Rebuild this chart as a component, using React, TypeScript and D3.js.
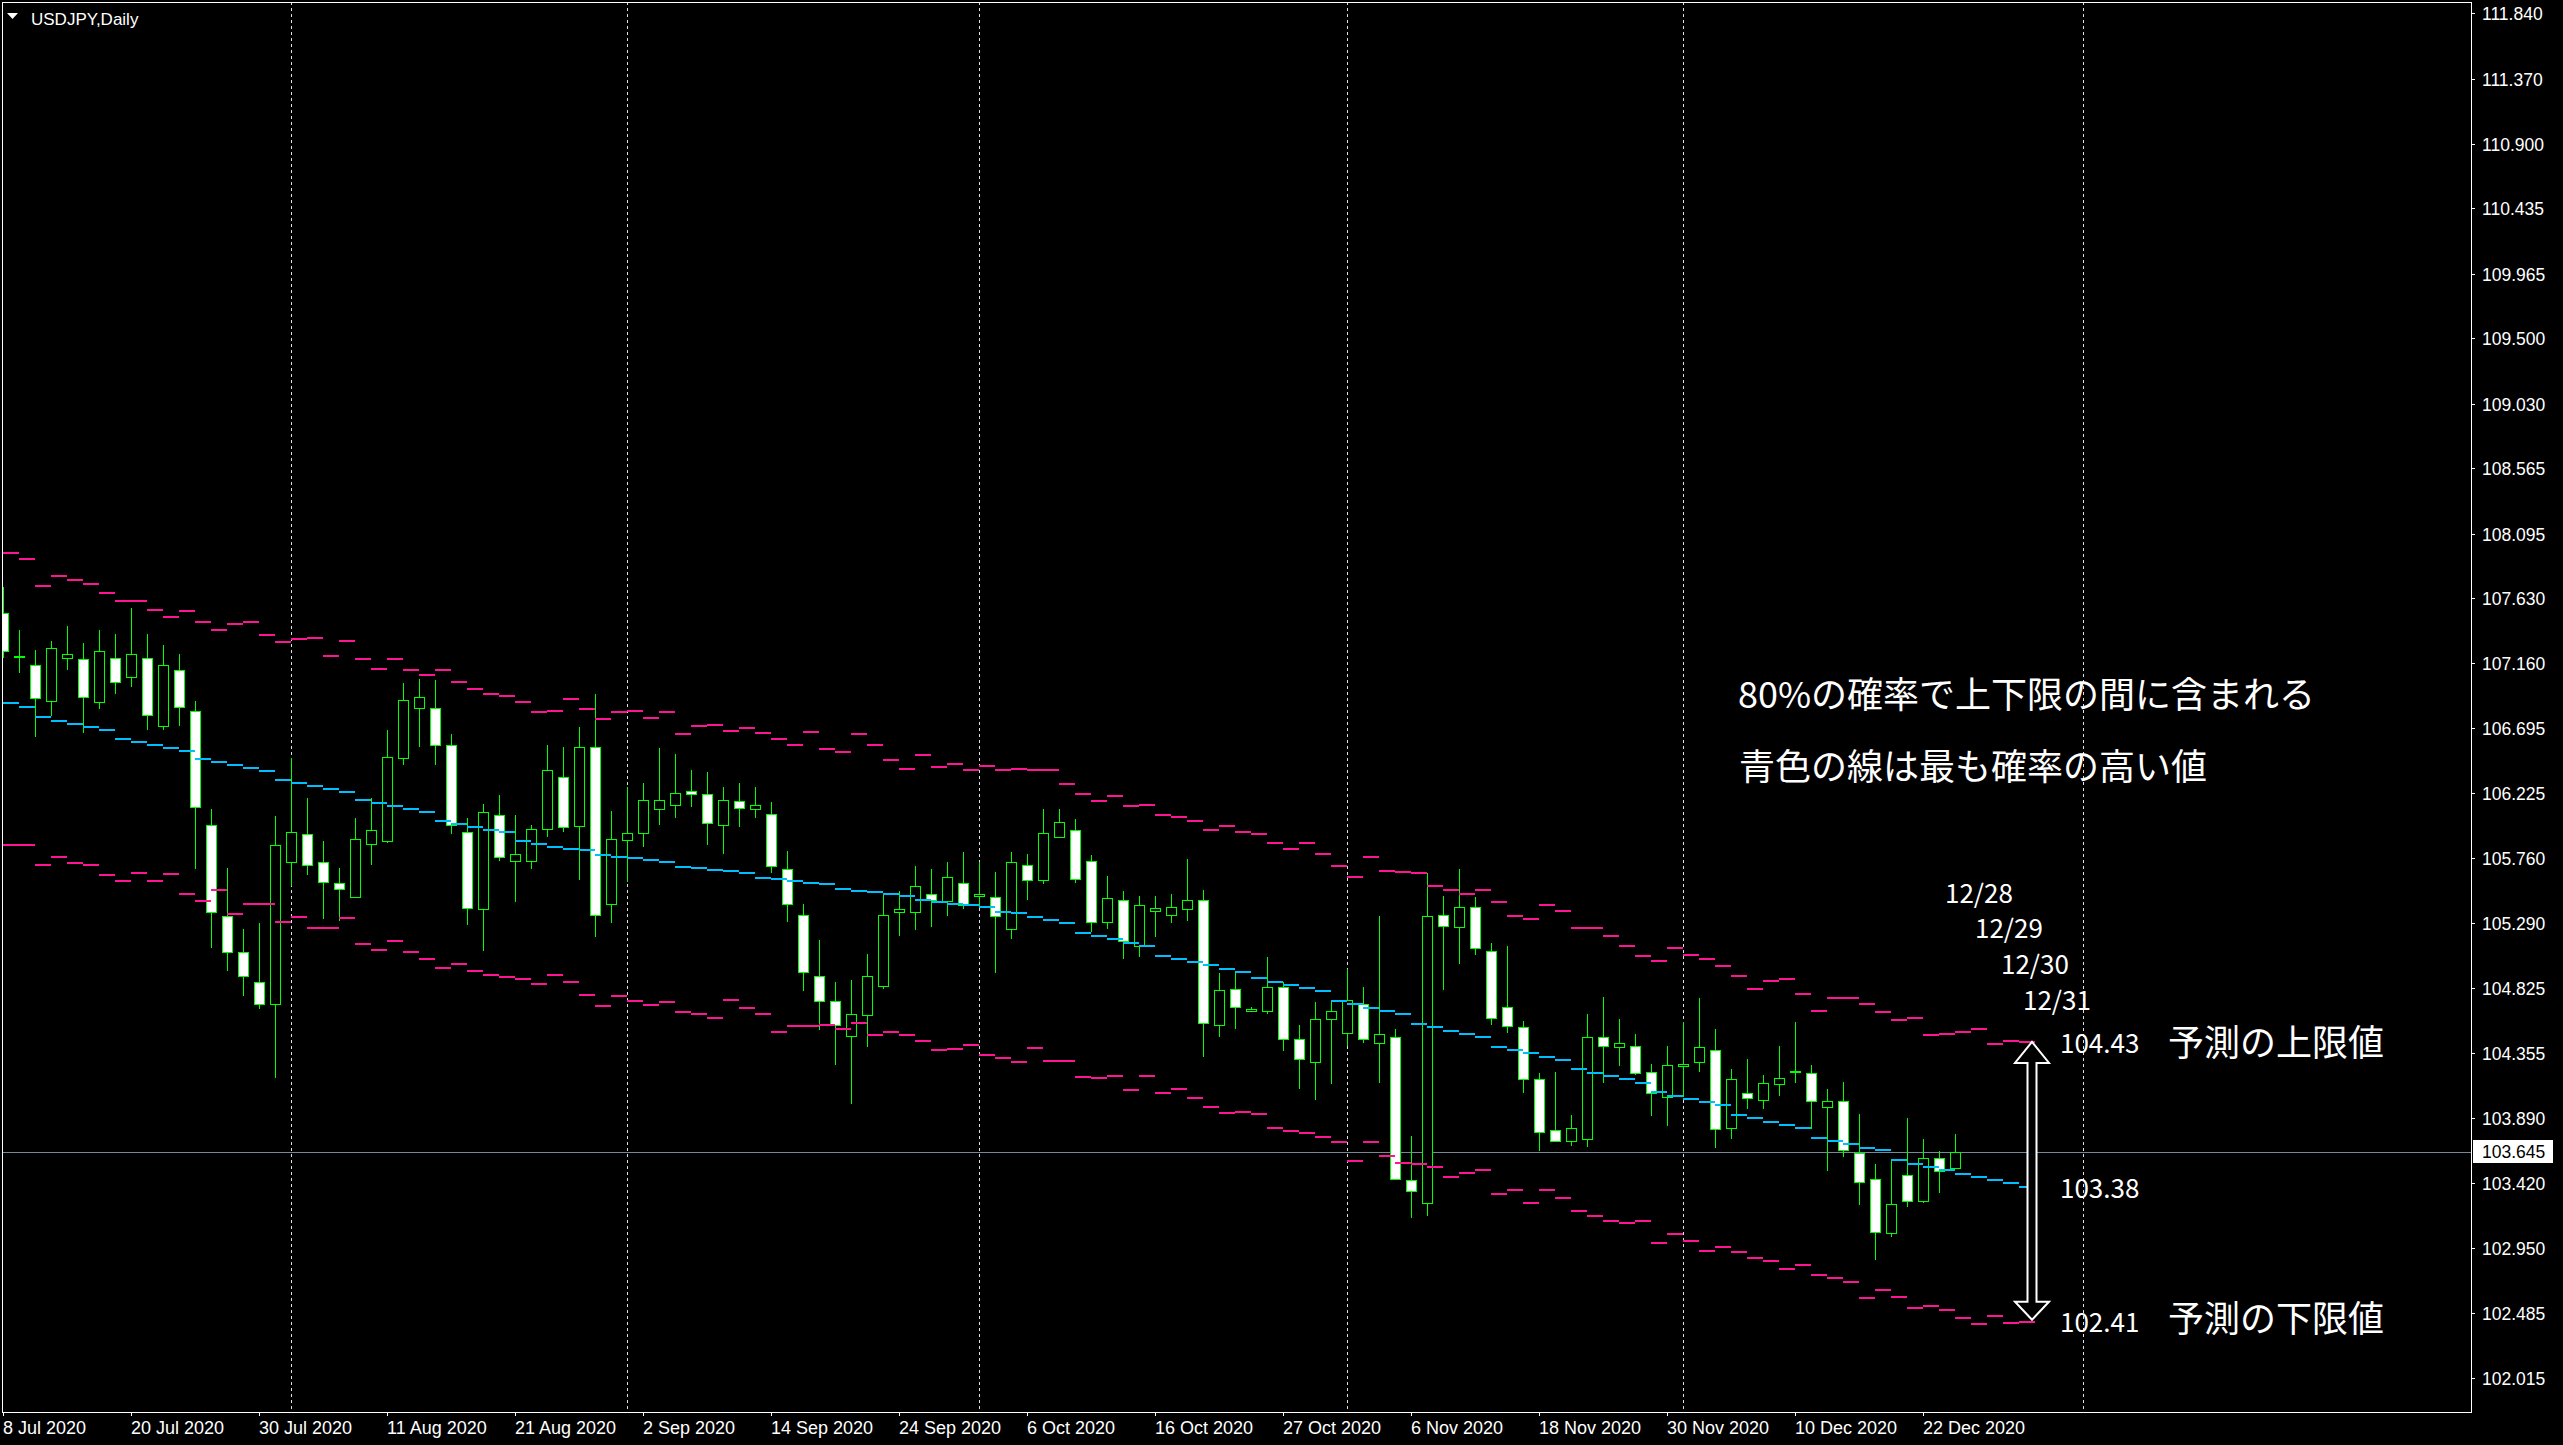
import React from 'react';
import * as d3 from 'd3';

// USDJPY daily candles, 8 Jul 2020 .. 24 Dec 2020 (bar index 0..122)
const opens = [
  107.52, 107.2, 107.15, 106.89, 107.2, 107.19, 106.88, 107.2, 107.06, 107.2,
  106.71, 107.11, 106.82, 106.0, 105.34, 105.08, 104.87, 104.71, 105.73, 105.93,
  105.73, 105.58, 105.48, 105.86, 105.88, 106.48, 106.84, 106.84, 106.57, 105.95,
  105.39, 106.07, 105.74, 105.74, 105.97, 106.34, 105.99, 106.56, 105.43, 105.89,
  105.94, 106.11, 106.14, 106.24, 106.22, 106.0, 106.17, 106.11, 106.08, 105.68,
  105.35, 104.91, 104.73, 104.48, 104.63, 104.84, 105.37, 105.37, 105.5, 105.45,
  105.58, 105.49, 105.48, 105.25, 105.71, 105.6, 105.91, 105.96, 105.74, 105.3,
  105.46, 105.13, 105.38, 105.35, 105.39, 105.46, 104.56, 104.82, 104.66, 104.66,
  104.83, 104.46, 104.29, 104.6, 104.5, 104.71, 104.43, 104.47, 103.44, 103.28,
  105.35, 105.26, 105.41, 105.09, 104.69, 104.54, 104.17, 103.8, 103.72, 103.74,
  104.47, 104.4, 104.41, 104.22, 104.04, 104.26, 104.29, 104.38, 103.82, 104.07,
  104.02, 104.13, 104.21, 104.21, 103.97, 104.01, 103.64, 103.45, 103.06, 103.48,
  103.29, 103.6, 103.53,
];
const highs = [
  107.71, 107.4, 107.26, 107.32, 107.43, 107.31, 107.4, 107.37, 107.56, 107.37,
  107.29, 107.23, 106.89, 106.11, 105.69, 105.25, 105.29, 106.06, 106.48, 106.19,
  105.88, 105.69, 106.05, 106.19, 106.68, 107.02, 107.05, 107.04, 106.65, 106.05,
  106.15, 106.21, 106.07, 106.0, 106.57, 106.56, 106.7, 106.94, 106.1, 106.27,
  106.3, 106.55, 106.51, 106.39, 106.38, 106.27, 106.3, 106.27, 106.16, 105.81,
  105.43, 105.17, 104.87, 104.88, 105.07, 105.51, 105.52, 105.7, 105.68, 105.73,
  105.8, 105.73, 105.66, 105.8, 105.79, 106.11, 106.11, 106.04, 105.78, 105.63,
  105.52, 105.49, 105.49, 105.5, 105.75, 105.53, 104.93, 104.94, 104.69, 105.05,
  104.87, 104.56, 104.72, 104.74, 104.96, 104.83, 105.34, 104.53, 103.76, 105.65,
  105.49, 105.68, 105.48, 105.15, 105.13, 104.59, 104.21, 104.22, 103.91, 104.64,
  104.76, 104.6, 104.49, 104.28, 104.41, 104.58, 104.75, 104.53, 104.24, 104.31,
  104.2, 104.41, 104.58, 104.27, 104.1, 104.15, 103.92, 103.56, 103.59, 103.89,
  103.74, 103.65, 103.77,
];
const lows = [
  107.2, 107.09, 106.63, 106.78, 107.11, 106.66, 106.83, 106.94, 106.99, 106.68,
  106.68, 106.71, 105.68, 105.11, 104.95, 104.77, 104.67, 104.18, 105.56, 105.64,
  105.32, 105.31, 105.47, 105.71, 105.87, 106.43, 106.56, 106.43, 105.93, 105.28,
  105.09, 105.74, 105.44, 105.68, 105.91, 105.95, 105.6, 105.19, 105.29, 105.59,
  105.84, 106.0, 106.05, 106.13, 105.85, 105.79, 105.98, 106.05, 105.65, 105.3,
  104.8, 104.52, 104.27, 103.99, 104.4, 104.82, 105.2, 105.24, 105.26, 105.34,
  105.39, 105.4, 104.93, 105.18, 105.46, 105.57, 105.91, 105.58, 105.23, 105.25,
  105.03, 105.05, 105.19, 105.29, 105.31, 104.33, 104.47, 104.53, 104.65, 104.64,
  104.37, 104.1, 104.02, 104.13, 104.41, 104.43, 104.14, 103.44, 103.17, 103.18,
  104.81, 105.0, 105.06, 104.56, 104.5, 104.07, 103.65, 103.72, 103.69, 103.68,
  104.14, 104.26, 104.2, 103.9, 103.83, 104.04, 104.22, 103.67, 103.74, 103.95,
  103.95, 104.05, 104.14, 103.81, 103.51, 103.61, 103.26, 102.87, 103.03, 103.25,
  103.28, 103.35, 103.53,
];
const closes = [
  107.25, 107.21, 106.91, 107.27, 107.23, 106.92, 107.25, 107.03, 107.23, 106.79,
  107.15, 106.85, 106.13, 105.37, 105.08, 104.91, 104.71, 105.85, 105.95, 105.71,
  105.59, 105.54, 105.9, 105.96, 106.49, 106.9, 106.92, 106.57, 106.0, 105.4,
  106.09, 105.77, 105.79, 105.97, 106.39, 105.98, 106.56, 105.35, 105.9, 105.94,
  106.18, 106.18, 106.23, 106.22, 106.01, 106.18, 106.12, 106.14, 105.7, 105.43,
  104.94, 104.73, 104.56, 104.64, 104.91, 105.35, 105.39, 105.56, 105.46, 105.62,
  105.42, 105.5, 105.34, 105.73, 105.6, 105.94, 106.02, 105.61, 105.3, 105.47,
  105.16, 105.42, 105.4, 105.41, 105.46, 104.57, 104.81, 104.69, 104.67, 104.83,
  104.46, 104.31, 104.6, 104.66, 104.74, 104.46, 104.49, 103.45, 103.36, 105.34,
  105.27, 105.41, 105.11, 104.61, 104.55, 104.17, 103.79, 103.72, 103.82, 104.47,
  104.41, 104.43, 104.21, 104.07, 104.27, 104.28, 104.4, 103.81, 104.17, 104.03,
  104.14, 104.18, 104.22, 104.01, 104.01, 103.66, 103.43, 103.07, 103.27, 103.29,
  103.6, 103.51, 103.645,
];

// forecast indicator, one value per bar (index 0..126, last four = 12/28..12/31)
const centerLine = [
  106.878, 106.849, 106.777, 106.749, 106.727, 106.705, 106.684, 106.619, 106.597, 106.576,
  106.554, 106.533, 106.475, 106.454, 106.432, 106.41, 106.389, 106.324, 106.302, 106.281,
  106.259, 106.238, 106.18, 106.159, 106.137, 106.115, 106.094, 106.029, 106.006, 105.982,
  105.961, 105.945, 105.884, 105.86, 105.839, 105.825, 105.817, 105.78, 105.764, 105.757,
  105.748, 105.729, 105.695, 105.689, 105.674, 105.666, 105.652, 105.618, 105.61, 105.594,
  105.58, 105.572, 105.538, 105.524, 105.516, 105.5, 105.487, 105.458, 105.444, 105.429,
  105.423, 105.408, 105.372, 105.364, 105.337, 105.313, 105.292, 105.222, 105.201, 105.177,
  105.15, 105.129, 105.054, 105.033, 105.011, 104.99, 104.961, 104.94, 104.896, 104.87,
  104.846, 104.824, 104.805, 104.733, 104.706, 104.68, 104.661, 104.637, 104.565, 104.546,
  104.517, 104.493, 104.474, 104.402, 104.378, 104.358, 104.33, 104.306, 104.241, 104.215,
  104.193, 104.169, 104.143, 104.075, 104.049, 104.025, 104.003, 103.984, 103.912, 103.888,
  103.862, 103.84, 103.816, 103.747, 103.725, 103.701, 103.675, 103.656, 103.589, 103.56,
  103.538, 103.517, 103.488, 103.466, 103.445, 103.423, 103.394,
];
const upperBand = [
  107.958, 107.915, 107.72, 107.792, 107.763, 107.735, 107.67, 107.612, 107.612, 107.548,
  107.497, 107.54, 107.461, 107.404, 107.447, 107.461, 107.368, 107.317, 107.339, 107.346,
  107.216, 107.324, 107.195, 107.123, 107.195, 107.116, 107.08, 107.116, 107.029, 106.978,
  106.941, 106.928, 106.885, 106.808, 106.819, 106.906, 106.835, 106.763, 106.811, 106.819,
  106.768, 106.808, 106.654, 106.712, 106.72, 106.675, 106.696, 106.662, 106.616, 106.576,
  106.67, 106.547, 106.526, 106.654, 106.576, 106.467, 106.403, 106.504, 106.417, 106.438,
  106.39, 106.419, 106.396, 106.398, 106.393, 106.393, 106.292, 106.22, 106.17, 106.206,
  106.134, 106.143, 106.069, 106.055, 106.026, 105.961, 105.99, 105.95, 105.932, 105.87,
  105.824, 105.87, 105.788, 105.702, 105.623, 105.767, 105.668, 105.659, 105.652, 105.558,
  105.529, 105.5, 105.529, 105.443, 105.345, 105.321, 105.421, 105.378, 105.256, 105.256,
  105.198, 105.126, 105.054, 105.018, 105.112, 105.061, 105.033, 104.982, 104.91, 104.817,
  104.877, 104.889, 104.781, 104.661, 104.752, 104.752, 104.709, 104.651, 104.594, 104.608,
  104.486, 104.493, 104.505, 104.529, 104.421, 104.443, 104.436,
];
const lowerBand = [
  105.857, 105.857, 105.711, 105.764, 105.724, 105.711, 105.639, 105.596, 105.652, 105.591,
  105.647, 105.503, 105.452, 105.532, 105.359, 105.426, 105.431, 105.301, 105.338, 105.258,
  105.258, 105.33, 105.144, 105.101, 105.165, 105.085, 105.034, 104.97, 104.997, 104.949,
  104.917, 104.904, 104.89, 104.856, 104.92, 104.864, 104.776, 104.696, 104.768, 104.733,
  104.704, 104.725, 104.651, 104.64, 104.608, 104.739, 104.68, 104.638, 104.51, 104.552,
  104.552, 104.56, 104.526, 104.574, 104.486, 104.507, 104.488, 104.443, 104.379, 104.387,
  104.414, 104.344, 104.322, 104.294, 104.394, 104.299, 104.299, 104.186, 104.179, 104.193,
  104.092, 104.193, 104.071, 104.099, 104.035, 103.97, 103.927, 103.93, 103.919, 103.819,
  103.797, 103.783, 103.754, 103.718, 103.581, 103.718, 103.617, 103.567, 103.56, 103.538,
  103.466, 103.495, 103.516, 103.344, 103.372, 103.279, 103.372, 103.315, 103.221, 103.185,
  103.149, 103.13, 103.149, 102.991, 103.053, 103.005, 102.933, 102.962, 102.926, 102.883,
  102.86, 102.8, 102.83, 102.76, 102.74, 102.71, 102.595, 102.653, 102.602, 102.523,
  102.538, 102.509, 102.451, 102.408, 102.465, 102.415, 102.422,
];

const priceTicks = [
  '111.840', '111.370', '110.900', '110.435', '109.965', '109.500', '109.030', '108.565',
  '108.095', '107.630', '107.160', '106.695', '106.225', '105.760', '105.290', '104.825',
  '104.355', '103.890', '103.420', '102.950', '102.485', '102.015',
];
const dateLabels = [
  '8 Jul 2020', '20 Jul 2020', '30 Jul 2020', '11 Aug 2020', '21 Aug 2020', '2 Sep 2020',
  '14 Sep 2020', '24 Sep 2020', '6 Oct 2020', '16 Oct 2020', '27 Oct 2020', '6 Nov 2020',
  '18 Nov 2020', '30 Nov 2020', '10 Dec 2020', '22 Dec 2020',
];
const dateLabelIndex = [0, 8, 16, 24, 32, 40, 48, 56, 64, 72, 80, 88, 96, 104, 112, 120];
const monthStartIndex = [18, 39, 61, 84, 105, 130];
const forecastDates = ['12/28', '12/29', '12/30', '12/31'];
const bidPrice = 103.645;
const upperText = '104.43';
const centerText = '103.38';
const lowerText = '102.41';

const W = 2563;
const H = 1445;
const FRAME = { left: 2, top: 2, right: 2471, bottom: 1412 };
const AXIS_FONT = "'Liberation Sans', Arial, sans-serif";
const JP_FONT = "'Noto Sans CJK JP', 'Noto Sans', sans-serif";
const PINK = '#ff1493';
const BLUE = '#00bfff';
const LIME = '#00ff00';

// hand placed annotation layout
const forecastDateLayout = [
  { x: 1945, y: 903 },
  { x: 1975, y: 938 },
  { x: 2001, y: 974 },
  { x: 2023, y: 1010 },
];

export default function App() {
  const x = d3.scaleLinear().domain([0, 126]).range([3, 2019]);
  const y = d3.scaleLinear().domain([102.015, 111.84]).range([1378.3, 13.3]);

  const bandDashes = (vals: number[], color: string, key: string) =>
    vals.map((v, k) => (
      <line
        key={key + k}
        x1={x(k)}
        x2={x(k + 1)}
        y1={Math.round(y(v))}
        y2={Math.round(y(v))}
        stroke={color}
        strokeWidth={2}
        shapeRendering="crispEdges"
      />
    ));

  const cx = x(126) + 13;
  const tTop = y(upperBand[upperBand.length - 1]);
  const tBot = y(lowerBand[lowerBand.length - 1]) - 2;
  const arrow = [
    [cx, tTop], [cx + 17, tTop + 21], [cx + 4.5, tTop + 21], [cx + 4.5, tBot - 18],
    [cx + 17, tBot - 18], [cx, tBot], [cx - 17, tBot - 18], [cx - 4.5, tBot - 18],
    [cx - 4.5, tTop + 21], [cx - 17, tTop + 21],
  ].map((p) => p.join(',')).join(' ');

  const yBid = Math.round(y(bidPrice)) + 0.5;

  return (
    <svg
      width={W}
      height={H}
      style={{ position: 'absolute', left: 0, top: 0, display: 'block', background: '#000' }}
    >
      <defs>
        <clipPath id="plot">
          <rect x={FRAME.left} y={FRAME.top} width={FRAME.right - FRAME.left} height={FRAME.bottom - FRAME.top} />
        </clipPath>
      </defs>
      <rect x={0} y={0} width={W} height={H} fill="#000" />

      <g clipPath="url(#plot)">
        {/* month separators */}
        {monthStartIndex.map((i) => (
          <line key={'g' + i} x1={x(i) + 0.5} x2={x(i) + 0.5} y1={FRAME.top} y2={FRAME.bottom}
            stroke="#e0e0e0" strokeWidth={1} strokeDasharray="3,3" shapeRendering="crispEdges" />
        ))}

        {/* bid line */}
        <line x1={FRAME.left} x2={FRAME.right} y1={yBid} y2={yBid} stroke="#778899" strokeWidth={1}
          shapeRendering="crispEdges" />

        {/* candles */}
        {opens.map((o, i) => {
          const c = closes[i];
          const cxI = x(i);
          const top = Math.round(y(Math.max(o, c)));
          const bot = Math.round(y(Math.min(o, c)));
          const bear = c < o;
          return (
            <g key={'c' + i}>
              <line x1={cxI + 0.5} x2={cxI + 0.5} y1={Math.round(y(highs[i]))} y2={Math.round(y(lows[i]))}
                stroke={LIME} strokeWidth={1} shapeRendering="crispEdges" />
              {bot - top < 2 ? (
                <rect x={cxI - 5} y={top - 1} width={11} height={2} fill={LIME} shapeRendering="crispEdges" />
              ) : (
                <rect x={cxI - 4.5} y={top + 0.5} width={10} height={bot - top} fill={bear ? '#fff' : '#000'}
                  stroke={LIME} strokeWidth={1} shapeRendering="crispEdges" />
              )}
            </g>
          );
        })}

        {bandDashes(upperBand, PINK, 'u')}
        {bandDashes(lowerBand, PINK, 'l')}
        {bandDashes(centerLine, BLUE, 'm')}

        {/* annotations */}
        <text x={1738} y={708} fill="#fff" fontFamily={JP_FONT} fontSize={36}>80%の確率で上下限の間に含まれる</text>
        <text x={1739} y={780} fill="#fff" fontFamily={JP_FONT} fontSize={36}>青色の線は最も確率の高い値</text>
        {forecastDates.map((d, k) => (
          <text key={d} x={forecastDateLayout[k].x} y={forecastDateLayout[k].y} fill="#fff"
            fontFamily={JP_FONT} fontSize={26}>{d}</text>
        ))}
        <polygon points={arrow} fill="#000" stroke="#fff" strokeWidth={2} />
        <text x={2060} y={y(+upperText) + 10} fill="#fff" fontFamily={JP_FONT} fontSize={26}>{upperText}</text>
        <text x={2060} y={y(+centerText) + 9} fill="#fff" fontFamily={JP_FONT} fontSize={26}>{centerText}</text>
        <text x={2060} y={y(+lowerText) + 9} fill="#fff" fontFamily={JP_FONT} fontSize={26}>{lowerText}</text>
        <text x={2168} y={y(+upperText) + 13} fill="#fff" fontFamily={JP_FONT} fontSize={36}>予測の上限値</text>
        <text x={2168} y={y(+lowerText) + 9} fill="#fff" fontFamily={JP_FONT} fontSize={36}>予測の下限値</text>
      </g>

      {/* frame */}
      <rect x={FRAME.left + 0.5} y={FRAME.top + 0.5} width={FRAME.right - FRAME.left} height={FRAME.bottom - FRAME.top}
        fill="none" stroke="#fff" strokeWidth={1} shapeRendering="crispEdges" />

      {/* title */}
      <polygon points="7,13 18,13 12.5,19" fill="#fff" />
      <text x={31} y={25} fill="#fff" fontFamily={AXIS_FONT} fontSize={17}>USDJPY,Daily</text>

      {/* price axis */}
      {priceTicks.map((t) => {
        const yy = Math.round(y(+t)) + 0.5;
        return (
          <g key={t}>
            <line x1={FRAME.right + 1} x2={FRAME.right + 4} y1={yy} y2={yy} stroke="#fff" shapeRendering="crispEdges" />
            <text x={2482} y={yy} dy="0.36em" fill="#fff" fontFamily={AXIS_FONT} fontSize={17.5}>{t}</text>
          </g>
        );
      })}
      <rect x={2473} y={Math.round(y(bidPrice)) - 12} width={80} height={23} fill="#fff" />
      <text x={2482} y={y(bidPrice)} dy="0.36em" fill="#000" fontFamily={AXIS_FONT} fontSize={17.5}>
        {bidPrice.toFixed(3)}
      </text>

      {/* time axis */}
      {dateLabels.map((d, k) => {
        const xx = x(dateLabelIndex[k]);
        return (
          <g key={d}>
            <line x1={xx + 0.5} x2={xx + 0.5} y1={FRAME.bottom} y2={FRAME.bottom + 4} stroke="#fff"
              shapeRendering="crispEdges" />
            <text x={xx} y={1434} fill="#fff" fontFamily={AXIS_FONT} fontSize={18}>{d}</text>
          </g>
        );
      })}
    </svg>
  );
}
